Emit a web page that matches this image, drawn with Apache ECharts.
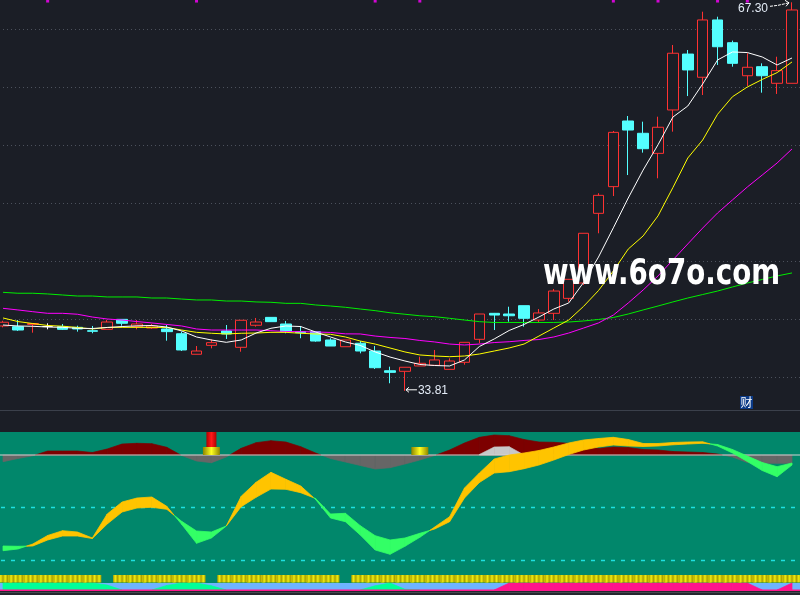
<!DOCTYPE html>
<html><head><meta charset="utf-8">
<script src="https://cdn.jsdelivr.net/npm/echarts/dist/echarts.min.js"></script>
<style>html,body{margin:0;padding:0;background:#1b1e26;}#c{width:800px;height:595px;}</style>
</head><body><div id="c"></div>
<script>
// ---------- data ----------
const days = ['1','2','3','4','5','6','7','8','9','10','11','12','13','14','15','16','17','18','19','20','21','22','23','24','25','26','27','28','29','30','31','32','33','34','35','36','37','38','39','40','41','42','43','44','45','46','47','48','49','50','51','52','53','54'];
// [open, close, low, high]
const ohlc = [
[39.40,39.72,39.28,39.85],[39.34,39.05,38.97,39.91],[39.53,39.61,38.82,39.66],[39.35,39.35,39.11,39.63],
[39.34,39.11,39.05,39.57],[39.28,39.14,38.91,39.42],[38.99,38.94,38.77,39.40],[39.11,39.74,39.11,39.91],
[39.97,39.63,39.42,39.97],[39.34,39.57,39.11,39.91],[39.22,39.40,39.14,39.57],[39.14,38.91,38.13,39.48],
[38.73,37.33,37.24,38.91],[36.96,37.24,36.96,37.67],[37.73,37.96,37.47,38.25],[38.97,38.71,38.28,39.48],
[37.56,39.89,37.18,39.89],[39.46,39.74,39.34,40.09],[40.14,39.77,39.74,40.17],[39.57,38.91,38.77,39.83],
[38.91,38.82,38.34,39.40],[38.91,38.10,38.04,38.91],[38.19,37.67,37.67,38.34],[37.61,38.19,37.61,38.19],
[37.91,37.24,37.04,38.10],[37.24,35.80,35.69,37.67],[35.54,35.40,34.46,35.89],[35.49,35.84,33.81,35.84],
[35.95,36.18,35.95,36.75],[36.01,36.47,36.01,37.33],[35.66,36.38,35.66,36.61],[36.27,37.99,36.06,37.99],
[38.25,40.43,37.91,40.43],[40.49,40.34,39.05,40.52],[40.43,40.28,39.77,41.06],[41.15,40.06,39.34,41.15],
[39.91,40.52,39.66,40.86],[40.49,42.41,39.91,42.59],[41.78,43.42,41.49,43.42],[43.10,47.39,42.93,47.39],
[49.11,50.66,47.39,50.84],[51.41,56.09,50.60,56.21],[57.07,56.29,52.41,57.50],[56.01,54.68,54.34,57.01],
[54.28,56.53,52.13,57.44],[58.02,62.91,56.15,63.62],[62.84,61.47,59.22,63.19],[60.84,65.78,59.31,66.49],
[65.78,63.47,61.90,66.06],[63.82,62.04,61.75,64.00],[60.97,61.70,60.09,62.91],[61.75,60.97,59.51,62.04],
[60.32,61.41,59.40,62.61],[60.32,66.64,60.32,67.30]];
const ma5 = [39.48,39.40,39.37,39.31,39.28,39.20,39.18,39.27,39.35,39.41,39.44,39.31,38.97,38.45,38.19,37.99,38.19,38.79,39.20,39.40,39.35,38.88,38.45,38.02,37.72,37.16,36.72,36.38,36.08,35.99,35.95,36.47,37.63,38.28,39.01,39.53,40.17,40.86,41.38,43.15,45.34,47.86,50.43,52.84,55.02,57.41,58.36,60.26,62.33,63.02,62.97,62.59,61.90,62.50];
const ma10 = [40.09,39.78,39.61,39.44,39.38,39.27,39.14,39.27,39.28,39.28,39.28,39.27,39.05,38.85,38.77,38.71,38.77,38.79,38.85,38.85,38.77,38.71,38.68,38.45,38.10,37.84,37.50,37.16,36.90,36.81,36.75,36.81,36.98,37.24,37.50,37.84,38.53,39.22,39.91,41.09,42.45,44.14,46.03,47.16,48.89,51.33,53.88,55.43,57.65,59.16,60.00,60.65,61.24,62.16];
const ma20 = [40.92,40.78,40.63,40.49,40.49,40.41,40.17,40.00,39.91,39.78,39.66,39.53,39.40,39.14,39.05,39.05,39.05,39.05,38.99,38.92,38.91,38.88,38.84,38.72,38.71,38.53,38.41,38.32,38.15,38.02,37.84,37.76,37.84,37.97,38.04,38.15,38.23,38.45,38.79,39.22,39.66,40.34,41.38,42.50,43.71,45.09,46.47,47.84,49.14,50.26,51.38,52.41,53.45,54.66];
const ma60 = [42.30,42.22,42.22,42.16,42.07,41.98,41.98,41.90,41.90,41.90,41.81,41.81,41.72,41.64,41.64,41.55,41.55,41.47,41.44,41.35,41.35,41.21,41.12,41.01,40.86,40.72,40.54,40.41,40.28,40.20,40.06,39.91,39.77,39.70,39.70,39.70,39.70,39.70,39.74,39.83,39.96,40.13,40.43,40.78,41.12,41.47,41.81,42.11,42.41,42.76,43.10,43.41,43.71,43.97];
const priceTicks = [35,40,45,50,55,60,65];
const topDots = [3,13,25,28,41,44,48,50];
const lowMark = {idx:27, value:33.81, text:'33.81'};
const highMark = {idx:53, value:67.30, text:'67.30'};

// lower indicator
const fastLine = [25.10,26.07,28.94,33.82,36.57,35.82,32.38,46.15,53.04,55.33,55.90,50.57,40.24,29.34,32.38,39.27,56.31,64.34,70.07,66.06,62.22,54.47,43.86,41.73,34.10,25.50,23.03,27.62,32.78,38.69,44.60,61.07,69.67,77.71,80.00,81.15,82.58,84.59,86.88,88.61,89.47,90.15,88.89,86.60,86.60,87.17,87.46,87.57,85.16,81.15,76.27,71.11,67.55,74.26];
const slowLine = [27.79,27.62,27.79,31.24,33.53,33.53,32.09,40.41,47.30,49.59,50.00,48.85,41.96,36.40,35.82,39.27,50.34,55.73,60.49,60.32,58.37,55.04,46.15,46.55,39.44,33.70,31.24,32.38,35.08,37.55,41.73,55.33,64.22,69.67,70.42,72.14,74.26,77.13,80.29,82.87,84.59,85.74,85.16,84.88,85.16,85.85,86.31,86.71,86.02,83.16,79.43,75.70,73.29,75.41];
const oscBase = 80;
const oscTicks = [50,20];
const hist = [-3.84,-2.01,-0.46,2.29,2.29,2.29,1.43,3.44,6.31,6.71,6.48,4.42,-0.29,-3.44,-4.42,-1.15,3.84,7.06,8.20,7.46,4.76,1.15,-2.01,-4.02,-6.02,-8.03,-7.29,-5.16,-2.87,-0.29,2.87,6.88,10.15,11.47,11.07,8.89,7.46,7.29,6.71,5.16,3.73,4.59,4.30,3.16,2.87,2.01,1.72,1.43,0.57,-1.15,-4.30,-4.76,-4.76,-4.76];
const hist2 = [null,null,null,null,null,null,null,null,null,null,null,null,null,null,null,null,null,null,null,null,null,null,null,null,null,null,null,null,null,null,null,null,0.3,4.59,4.76,0,null,null,null,null,null,null,null,null,null,null,null,null,null,null,null,null,null,null];
const flagBlocks = [[14,80,84.6],[28,80,84.6]];
const redBlocks = [[14,84.6,93.2]];
// bottom strips
const stripOn = [1,1,1,1,1,1,1,0,1,1,1,1,1,1,0,1,1,1,1,1,1,1,1,0,1,1,1,1,1,1,1,1,1,1,1,1,1,1,1,1,1,1,1,1,1,1,1,1,1,1,1,1,1,1];
const greenState = [1,1,1,1,1,1,1,0.7,0,0,0,0.65,1,1,0.6,0,0,0,0,0,0,0,0,0,0,0.6,1,0.1,0,0,0,0,0,0,0,0,0,0,0,0,0,0,0,0,0,0,0,0,0,0,0,0,0,0];
const pinkState = [0,0,0,0,0,0,0,0,0,0,0,0,0,0,0,0,0,0,0,0,0,0,0,0,0,0,0,0,0,0,0,0,0,0,1,1,1,1,1,1,1,1,1,1,1,1,1,1,1,1,1,0,0,1];

// ---------- chart ----------
const N = days.length;
const BG = '#1b1e26';
const chart = echarts.init(document.getElementById('c'), null, {renderer:'canvas', width:800, height:595});

function areaSeries(vals, base, posColor, negColor, xi, yi, z) {
  return {
    type:'custom', xAxisIndex:xi, yAxisIndex:yi, z:z, silent:true,
    data: vals.map((v,i)=>[i, v==null?base:base+v]),
    renderItem(params, api) {
      const i = params.dataIndex;
      if (i >= N-1) return null;
      const h0 = vals[i], h1 = vals[i+1];
      if (h0 == null || h1 == null) return null;
      if (h0 === 0 && h1 === 0) return null;
      const b0 = api.coord([i, base]), b1 = api.coord([i+1, base]);
      const t0 = api.coord([i, base+h0]), t1 = api.coord([i+1, base+h1]);
      const kids = [];
      const poly = (pts, c) => { if (c) kids.push({type:'polygon', shape:{points:pts}, style:{fill:c, stroke:c, lineWidth:0.7}}); };
      if (h0*h1 >= 0) {
        poly([b0,t0,t1,b1], (h0+h1) >= 0 ? posColor : negColor);
      } else {
        const t = h0/(h0-h1);
        const c = [b0[0]+t*(b1[0]-b0[0]), b0[1]+t*(b1[1]-b0[1])];
        poly([b0,t0,c], h0>0?posColor:negColor);
        poly([c,t1,b1], h1>0?posColor:negColor);
      }
      return {type:'group', children:kids};
    }
  };
}

const UPC = '#ffc400', DNC = '#33ff66';
const ribbon = {
  type:'custom', xAxisIndex:1, yAxisIndex:1, z:5, silent:true,
  data: fastLine.map((v,i)=>[i, v, slowLine[i]]),
  renderItem(params, api) {
    const i = params.dataIndex;
    if (i >= N-1) return null;
    const a0 = api.coord([i, fastLine[i]]), a1 = api.coord([i+1, fastLine[i+1]]);
    const b0 = api.coord([i, slowLine[i]]), b1 = api.coord([i+1, slowLine[i+1]]);
    const d0 = fastLine[i]-slowLine[i], d1 = fastLine[i+1]-slowLine[i+1];
    const col = d => d >= 0 ? UPC : DNC;
    const kids = [];
    const poly = (pts, c) => kids.push({type:'polygon', shape:{points:pts}, style:{fill:c, stroke:c, lineWidth:0.8}});
    if (d0*d1 >= 0) {
      poly([a0,a1,b1,b0], col(d0 !== 0 ? d0 : d1));
    } else {
      const t = d0/(d0-d1);
      const c = [a0[0]+t*(a1[0]-a0[0]), a0[1]+t*(a1[1]-a0[1])];
      poly([a0,c,b0], col(d0));
      poly([c,a1,b1], col(d1));
    }
    return {type:'group', children:kids};
  }
};

function blockSeries(list, width, stops, z) {
  return {
    type:'custom', xAxisIndex:1, yAxisIndex:1, z:z, silent:true,
    data: list,
    renderItem(params, api) {
      const lo = api.coord([api.value(0), api.value(1)]);
      const hi = api.coord([api.value(0), api.value(2)]);
      return {type:'rect', shape:{x:lo[0]-width/2, y:hi[1], width:width, height:lo[1]-hi[1]},
        style:{fill:new echarts.graphic.LinearGradient(0,0,1,0,stops)}};
    }
  };
}

const stripeStops = [];
for (let k=0;k<=8;k++) stripeStops.push({offset:k/8, color: k%2 ? '#f0ec10' : '#aca200'});
const stripSeries = {
  type:'custom', xAxisIndex:2, yAxisIndex:2, z:4, silent:true,
  data: stripOn.map((v,i)=>[i,v]),
  renderItem(params, api) {
    const i = params.dataIndex;
    if (!stripOn[i]) return null;
    const top = api.coord([i, 15]), bot = api.coord([i, 7.5]);
    return {type:'rect', shape:{x:top[0]-9, y:top[1], width:18, height:bot[1]-top[1]},
      style:{fill:new echarts.graphic.LinearGradient(0,0,1,0,stripeStops)}};
  }
};

const candleData = ohlc.map(d => d[0] === d[1]
  ? {value:d, itemStyle:{color:'#ffffff', color0:'#ffffff', borderColor:'#ffffff', borderColor0:'#ffffff', borderColorDoji:'#ffffff'}}
  : d);

const lineS = (data, color) => ({type:'line', xAxisIndex:0, yAxisIndex:0, data:data, showSymbol:false, symbol:'none', z:6, silent:true,
  lineStyle:{color:color, width:1}, clip:false});

const option = {
  animation:false,
  backgroundColor:BG,
  grid:[
    {left:3, right:8, top:0, height:410, outerBoundsMode:'none'},
    {left:3, right:8, top:432, height:158, outerBoundsMode:'none'},
    {left:3, right:8, top:575, height:15, outerBoundsMode:'none'}
  ],
  xAxis:[0,1,2].map(g=>({type:'category', gridIndex:g, data:days, boundaryGap:false, show:false})),
  yAxis:[
    {type:'value', gridIndex:0, min:32.155, max:67.5, show:false},
    {type:'value', gridIndex:1, min:2.55, max:93.2, show:false},
    {type:'value', gridIndex:2, min:0, max:15, show:false}
  ],
  series:[
    areaSeries(hist, oscBase, '#7d0000', '#666666', 1, 1, 2),
    areaSeries(hist2, oscBase, '#c8c8c8', null, 1, 1, 2),
    ribbon,
    blockSeries(flagBlocks, 17, [{offset:0,color:'#8f8400'},{offset:0.5,color:'#ffff20'},{offset:1,color:'#8f8400'}], 5),
    blockSeries(redBlocks, 10, [{offset:0,color:'#b00000'},{offset:0.5,color:'#ff1a1a'},{offset:1,color:'#b00000'}], 5),
    stripSeries,
    areaSeries(greenState.map(v=>v*7), 0, '#00ff99', null, 2, 2, 3),
    areaSeries(pinkState.map(v=>v*7), 0, '#ff148c', null, 2, 2, 3),
    {type:'candlestick', xAxisIndex:0, yAxisIndex:0, data:candleData, barWidth:11, z:4, clip:false, silent:true,
      itemStyle:{color:BG, color0:'#54ffff', borderColor:'#ff3232', borderColor0:'#54ffff', borderWidth:1}},
    lineS(ma60, '#00ee00'),
    lineS(ma20, '#ff00ff'),
    lineS(ma10, '#ffff00'),
    lineS(ma5, '#ffffff'),
    {type:'scatter', xAxisIndex:0, yAxisIndex:0, data:topDots.map(i=>[i,67.41]), symbol:'rect', symbolSize:[3,3],
      itemStyle:{color:'#ff00ff'}, z:6, clip:false, silent:true}
  ]
};
chart.setOption(option);

// ---------- overlays derived from the axes ----------
const G = [];
G.push({type:'rect', shape:{x:0,y:432,width:800,height:151}, style:{fill:'#01876b'}, z:0, silent:true});
G.push({type:'rect', shape:{x:0,y:583,width:800,height:7}, style:{fill:'#6eb4ff'}, z:0, silent:true});
G.push({type:'rect', shape:{x:0,y:589.5,width:800,height:1.5}, style:{fill:'#ff148c'}, z:7, silent:true});
G.push({type:'rect', shape:{x:0,y:591,width:800,height:4}, style:{fill:'#24272e'}, z:7, silent:true});
G.push({type:'rect', shape:{x:0,y:592,width:800,height:1}, style:{fill:'#464950'}, z:7, silent:true});
G.push({type:'rect', shape:{x:0,y:410,width:800,height:1}, style:{fill:'#3b404b'}, z:1, silent:true});
priceTicks.forEach(p => {
  const y = Math.round(chart.convertToPixel({yAxisIndex:0}, p)) + 0.5;
  G.push({type:'line', shape:{x1:3,y1:y,x2:800,y2:y}, style:{stroke:'#4c515c', lineWidth:1, lineDash:[1,3]}, z:1, silent:true});
});
const yb = chart.convertToPixel({yAxisIndex:1}, oscBase);
G.push({type:'line', shape:{x1:0,y1:yb,x2:800,y2:yb}, style:{stroke:'#d4d4d4', lineWidth:1.2}, z:3, silent:true});
oscTicks.forEach(v => {
  const y = Math.round(chart.convertToPixel({yAxisIndex:1}, v)) + 0.5;
  G.push({type:'line', shape:{x1:1,y1:y,x2:800,y2:y}, style:{stroke:'#1ee0e0', lineWidth:1.3, lineDash:[4,6]}, z:3, silent:true});
});
// low label
const lp = chart.convertToPixel({gridIndex:0}, [lowMark.idx, lowMark.value]);
G.push({type:'polyline', shape:{points:[[lp[0]+12,lp[1]-1],[lp[0]+1,lp[1]-1]]}, style:{stroke:'#ffffff', lineWidth:1}, z:10, silent:true});
G.push({type:'polyline', shape:{points:[[lp[0]+4,lp[1]-3.5],[lp[0]+1,lp[1]-1],[lp[0]+4,lp[1]+1.5]]}, style:{stroke:'#ffffff', lineWidth:1, fill:null}, z:10, silent:true});
G.push({type:'text', x:lp[0]+13, y:lp[1]-0.5, style:{text:lowMark.text, font:'12px "Liberation Sans", Arial, sans-serif', fill:'#e4ecf7', verticalAlign:'middle', align:'left'}, z:10, silent:true});
// high label
const hp = chart.convertToPixel({gridIndex:0}, [highMark.idx, highMark.value]);
G.push({type:'text', x:hp[0]-24, y:hp[1]+6, style:{text:highMark.text, font:'12px "Liberation Sans", Arial, sans-serif', fill:'#e4ecf7', verticalAlign:'middle', align:'right'}, z:10, silent:true});
G.push({type:'polyline', shape:{points:[[hp[0]-22,hp[1]+4],[hp[0]-14,hp[1]+3],[hp[0]-3,hp[1]+0.5]]}, style:{stroke:'#ffffff', lineWidth:1, fill:null, lineDash:[3,1]}, z:10, silent:true});
G.push({type:'polyline', shape:{points:[[hp[0]-7,hp[1]-2],[hp[0]-3,hp[1]+0.5],[hp[0]-6,hp[1]+4]]}, style:{stroke:'#ffffff', lineWidth:1, fill:null}, z:10, silent:true});
// small tag
G.push({type:'rect', shape:{x:740,y:396,width:13,height:13}, style:{fill:'#0b3a87'}, z:10, silent:true});
G.push({type:'text', x:746.5, y:402.5, style:{text:'财', font:'12px "Noto Sans CJK SC", sans-serif', fill:'#ffffff', align:'center', verticalAlign:'middle'}, z:11, silent:true});
// watermark
G.push({type:'text', x:543, y:275, scaleX:0.77, style:{text:'www.6o7o.com', font:'bold 36px "DejaVu Sans", sans-serif', fill:'#ffffff', align:'left', verticalAlign:'middle'}, z:12, silent:true});

chart.setOption({graphic:{elements:G}});
</script>
</body></html>
